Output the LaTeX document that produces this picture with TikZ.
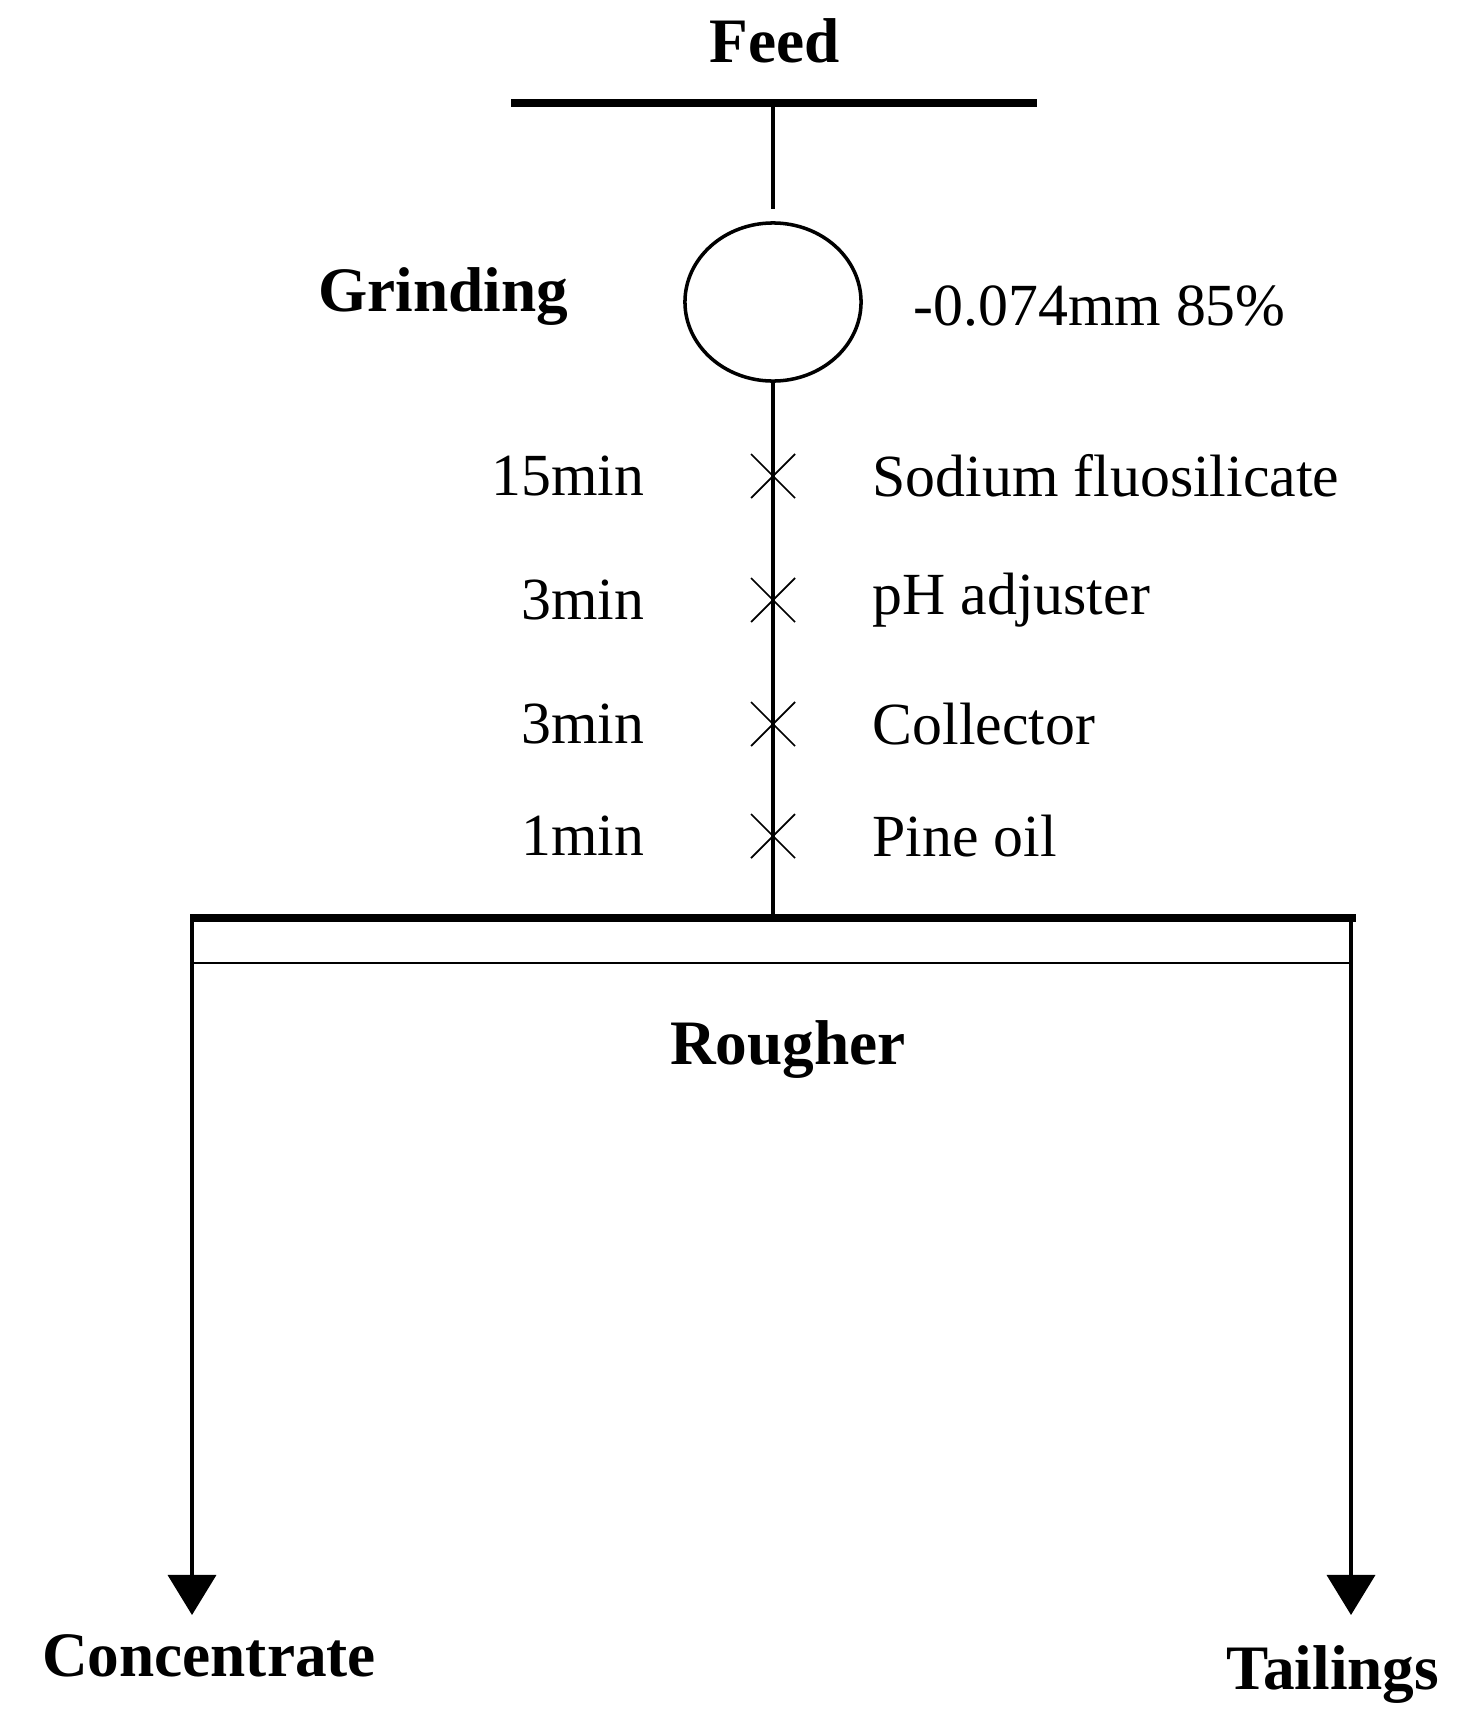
\documentclass[tikz,border=0pt]{standalone}
\usepackage{fontspec}
\setmainfont{Liberation Serif}
\usetikzlibrary{arrows.meta,shapes.geometric}
\begin{document}
\begin{tikzpicture}[x=0.01cm,y=-0.01cm,
  lbl/.style={font=\fontsize{17}{20}\selectfont,inner sep=0},
  blbl/.style={font=\fontsize{18}{21}\selectfont\bfseries,inner sep=0},
  xmark/.style={line width=0.5pt}]
\useasboundingbox (0,0) rectangle (1464,1721);
\node[blbl] (feed) at (775,41) {Feed};
\draw[line width=2pt] (511,103) -- (1037,103);
\coordinate (fb) at (773,103);
\node[draw,ellipse,line width=1pt,minimum width=1.76cm,minimum height=1.58cm,inner sep=0] (mill) at (773,302) {};
\draw[line width=1pt] (fb) -- (773,209);
\node[blbl,anchor=center] (grind) at (443,297) {Grinding};
\node[lbl,anchor=west] (size) at (913,306) {-0.074mm 85\%};
\coordinate (bar) at (773,918);
\draw[line width=1pt] (mill.south) -- (bar);
\foreach \y/\t/\r in {476/15min/Sodium fluosilicate,600/3min/pH adjuster,724/3min/Collector,836/1min/Pine oil}{
  \draw[xmark] (751,\y-22) -- (795,\y+22) (751,\y+22) -- (795,\y-22);
  \node[lbl,anchor=east] at (645,\y) {\t};
  \node[lbl,anchor=west] at (872,\y) {\r};
}
\draw[line width=2.5pt] (190,918) -- (1356,918);
\draw[line width=0.8pt] (192,963) -- (1351,963);
\node[blbl] (rough) at (788,1050) {Rougher};
\coordinate (l) at (192,918); \coordinate (r) at (1351,918);
\draw[line width=1pt,-{Triangle[length=0.4cm,width=0.48cm]}] (l) -- (192,1615);
\draw[line width=1pt,-{Triangle[length=0.4cm,width=0.48cm]}] (r) -- (1351,1615);
\node[blbl] (conc) at (209,1656) {Concentrate};
\node[blbl] (tail) at (1333,1675) {Tailings};
\end{tikzpicture}
\end{document}
